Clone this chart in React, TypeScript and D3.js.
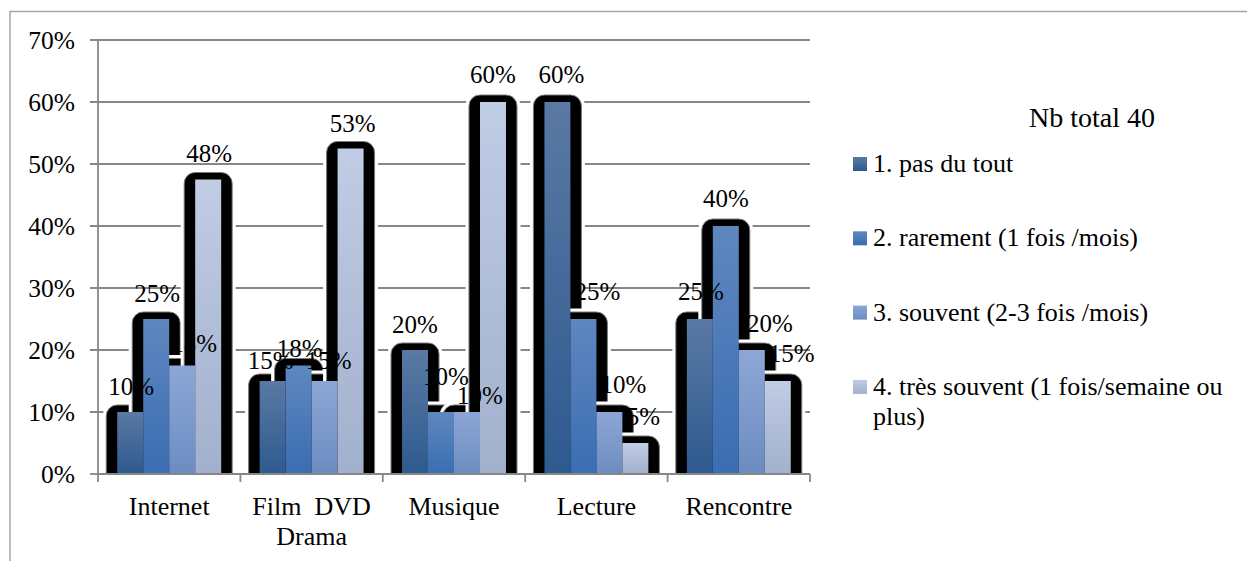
import * as d3 from 'd3'

// categories and series (percent of 40 respondents)
const categories = ['Internet', 'Film DVD Drama', 'Musique', 'Lecture', 'Rencontre']
const categoryLines = [['Internet'], ['Film  DVD', 'Drama'], ['Musique'], ['Lecture'], ['Rencontre']]
const seriesNames = ['1. pas du tout', '2. rarement (1 fois /mois)', '3. souvent (2-3 fois /mois)', '4. très souvent (1 fois/semaine ou plus)']
const legendLines = [['1. pas du tout'], ['2. rarement (1 fois /mois)'], ['3. souvent (2-3 fois /mois)'], ['4. très souvent (1 fois/semaine ou', 'plus)']]
const pasDuTout = [10, 15, 20, 60, 25]
const rarement = [25, 17.5, 10, 25, 40]
const souvent = [17.5, 15, 10, 10, 20]
const tresSouvent = [47.5, 52.5, 60, 5, 15]
const yTicks = [0, 10, 20, 30, 40, 50, 60, 70]
const legendTitle = 'Nb total 40'

const series = [pasDuTout, rarement, souvent, tresSouvent]

// look
const W = 1247
const H = 561
const margin = { left: 98, right: 810, top: 40, bottom: 474 }
const gradients = [
  ['#5a79a4', '#2e5a8f'],
  ['#5f87bf', '#3a6db2'],
  ['#8ca7d6', '#6c8cc1'],
  ['#c1cce5', '#a1b0cc'],
]
// excel moved some labels sideways to avoid overlap: [category][series]
const labelDx = [[1, 1, 12, 1], [-2, 1, 4, 2], [0, 5, 13, 0], [4, 14, 14, 8], [1, 0, 18, 14]]
const labelDy = [[1, 1, 4, 0], [6, 9, 6, 1], [1, -9, 10, -1], [-1, -1, -1, 0], [-1, -1, 0, -1]]
const font = "'Liberation Serif', Tinos, 'Times New Roman', serif"
const txt = { fontFamily: font }

function topRounded(x: number, y: number, w: number, base: number, r: number) {
  const p = d3.path()
  p.moveTo(x, base)
  p.lineTo(x, y + r)
  p.arcTo(x, y, x + r, y, r)
  p.lineTo(x + w - r, y)
  p.arcTo(x + w, y, x + w, y + r, r)
  p.lineTo(x + w, base)
  p.closePath()
  return p.toString()
}

export default function App() {
  const x0 = d3.scaleBand<string>().domain(categories).range([margin.left, margin.right]).padding(0)
  const x1 = d3.scaleBand<number>()
    .domain(series.map((_, i) => i))
    .range([0, x0.bandwidth()])
    .paddingInner(0)
    .paddingOuter(0.74)
  const y = d3.scaleLinear().domain([0, 70]).range([margin.bottom, margin.top])
  const bw = x1.bandwidth()
  const base = y(0)

  const bars = categories.flatMap((c, ci) =>
    series.map((s, si) => ({
      ci, si, v: s[ci],
      x: x0(c)! + x1(si)!,
      top: y(s[ci]),
    })),
  )

  return (
    <svg width={W} height={H} style={{ position: 'absolute', left: 0, top: 0, background: '#fff', fontFamily: font }}>
      <defs>
        {gradients.map((g, i) => (
          <linearGradient key={i} id={`grad${i}`} x1="0" y1="0" x2="0" y2="1">
            <stop offset="0%" stopColor={g[0]} />
            <stop offset="100%" stopColor={g[1]} />
          </linearGradient>
        ))}
        <clipPath id="plotClip">
          <rect x={0} y={0} width={W} height={base} />
        </clipPath>
      </defs>

      {/* outer frame */}
      <line x1={10} x2={10} y1={11} y2={H} stroke="#a6a6a6" strokeWidth={1.5} />
      <line x1={10} x2={W} y1={11.5} y2={11.5} stroke="#a6a6a6" strokeWidth={1.5} />

      {/* grid + y ticks */}
      {yTicks.map(t => (
        <g key={t}>
          <line x1={margin.left - 8} x2={t === 0 ? margin.left : margin.right} y1={y(t)} y2={y(t)} stroke="#878787" strokeWidth={1.8} />
          <text x={75} y={y(t) + 9} textAnchor="end" fontSize={25.5} fill="#000" style={txt}>{t}%</text>
        </g>
      ))}

      {/* black rounded shadows with white halo */}
      <g clipPath="url(#plotClip)">
        {bars.map(b => {
          const d = topRounded(b.x - 11, b.top - 7, bw + 22, base + 2, 11)
          return (
            <g key={`s${b.ci}-${b.si}`}>
              <path d={d} fill="#fff" stroke="#fff" strokeWidth={7} />
              <path d={d} fill="#000" stroke="#7a7a7a" strokeWidth={1} />
            </g>
          )
        })}
        {bars.map(b => (
          <rect key={`b${b.ci}-${b.si}`} x={b.x} y={b.top} width={bw} height={base - b.top} fill={`url(#grad${b.si})`} />
        ))}
      </g>

      {/* axes */}
      <line x1={margin.left} x2={margin.left} y1={margin.top} y2={base} stroke="#878787" strokeWidth={1.8} />
      <line x1={margin.left} x2={margin.right} y1={base} y2={base} stroke="#878787" strokeWidth={1.8} />
      {categories.map(c => x0(c)!).concat([margin.right]).map((tx, i) => (
        <line key={i} x1={tx} x2={tx} y1={base} y2={base + 8} stroke="#878787" strokeWidth={1.8} />
      ))}
      {categories.map((c, ci) => (
        <text key={c} x={x0(c)! + x0.bandwidth() / 2} textAnchor="middle" fontSize={26} fill="#000" style={{ ...txt, whiteSpace: 'pre' }}>
          {categoryLines[ci].map((ln, li) => (
            <tspan key={li} x={x0(c)! + x0.bandwidth() / 2} y={515 + li * 30}>{ln}</tspan>
          ))}
        </text>
      ))}

      {/* data labels */}
      {bars.map(b => (
        <text
          key={`l${b.ci}-${b.si}`}
          x={b.x + bw / 2 + labelDx[b.ci][b.si]}
          y={b.top - 18 + labelDy[b.ci][b.si]}
          textAnchor="middle"
          fontSize={25}
          fill="#000"
          style={txt}
        >
          {Math.round(b.v)}%
        </text>
      ))}

      {/* legend */}
      <text x={1092} y={127} textAnchor="middle" fontSize={28} fill="#000" style={txt}>{legendTitle}</text>
      {seriesNames.map((name, i) => {
        const by = 172 + i * 74.3
        return (
          <g key={name}>
            <rect x={853} y={by - 15} width={14} height={14} fill={`url(#grad${i})`} />
            <text fontSize={26} fill="#000" style={txt}>
              {legendLines[i].map((ln, li) => (
                <tspan key={li} x={873} y={by + li * 30}>{ln}</tspan>
              ))}
            </text>
          </g>
        )
      })}
    </svg>
  )
}
